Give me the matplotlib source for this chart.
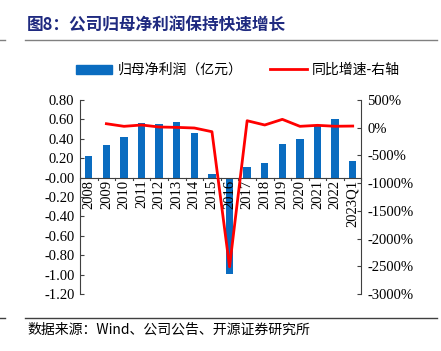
import matplotlib
matplotlib.use('Agg')
import matplotlib.pyplot as plt
from matplotlib.lines import Line2D
from matplotlib.patches import Patch
import numpy as np

years = ['2008', '2009', '2010', '2011', '2012', '2013', '2014', '2015',
         '2016', '2017', '2018', '2019', '2020', '2021', '2022', '2023Q1']
profit = [0.22, 0.34, 0.42, 0.56, 0.55, 0.57, 0.46, 0.04,
          -0.99, 0.11, 0.15, 0.35, 0.40, 0.53, 0.60, 0.17]
growth_years = years[1:]
growth = [72, 25, 49, 13, 6, -5, -72, -2509, 126, 49, 151, 25, 43, 26, 30]

cjk = ['Noto Sans CJK SC', 'DejaVu Sans']
serif = ['Liberation Serif', 'DejaVu Serif']
blue = '#0a6cc0'
red = '#ff0000'

fig = plt.figure(figsize=(4.41, 3.51), dpi=100)
ax = fig.add_axes([80 / 441, 1 - 294 / 351, (361.5 - 80) / 441, 194 / 351])
ax2 = ax.twinx()

x = np.arange(len(years))
ax.bar(x, profit, width=0.42, color=blue, zorder=2)
ax2.plot(x[1:], growth, color=red, linewidth=2, zorder=3)

ax.set_xlim(-0.5, len(years) - 0.5)
ax.set_ylim(-1.2, 0.8)
ax.set_yticks(np.arange(-1.2, 0.81, 0.2))
ax.set_yticklabels([f'{v:.2f}' for v in np.arange(-1.2, 0.81, 0.2)], family=serif, fontsize=10.5)
ax2.set_ylim(-3000, 500)
ax2.set_yticks(np.arange(-3000, 501, 500))
ax2.set_yticklabels([f'{v}%' for v in range(-3000, 501, 500)], family=serif, fontsize=10.5)

for a in (ax, ax2):
    a.spines['top'].set_visible(False)
    a.spines['bottom'].set_visible(False)
ax.spines['right'].set_visible(False)
ax.spines['left'].set_color('#404040')
ax2.spines['right'].set_color('#404040')
ax2.spines['left'].set_visible(False)
ax.tick_params(axis='y', direction='in', length=3, color='#404040', pad=4)
ax2.tick_params(axis='y', direction='in', length=3, color='#404040', pad=4)

# zero line with ticks at category boundaries
ax.axhline(0, color='#404040', linewidth=0.8, zorder=4)
ax.set_xticks([])
for b in np.arange(-0.5, len(years), 1.0):
    ax.plot([b, b], [0, -0.025], color='#404040', linewidth=0.8, clip_on=False, zorder=4)
for i, lab in enumerate(years):
    ax.text(i, -0.02, lab, rotation=90, ha='center', va='top', family=serif, fontsize=10.5, zorder=5)

# title and rules
fig.text(27 / 441, 1 - 25 / 351, '图8：公司归母净利润保持快速增长', family=cjk, fontsize=12,
         fontweight='bold', color='#1f2a80', va='center')
fig.add_artist(Line2D([25 / 441, 437 / 441], [1 - 40 / 351] * 2, color='#808080', linewidth=1))
fig.add_artist(Line2D([0, 5 / 441], [1 - 40 / 351] * 2, color='#808080', linewidth=1))
fig.add_artist(Line2D([25 / 441, 437 / 441], [1 - 318 / 351] * 2, color='#404040', linewidth=1))
fig.add_artist(Line2D([0, 5 / 441], [1 - 318 / 351] * 2, color='#404040', linewidth=1))
fig.text(27 / 441, 1 - 330 / 351, '数据来源：Wind、公司公告、开源证券研究所', family=['Noto Sans CJK SC', 'Liberation Serif'],
         fontsize=10, va='center')

handles = [Patch(color=blue), Line2D([], [], color=red, linewidth=2)]
fig.legend(handles, ['归母净利润（亿元）', '同比增速-右轴'], loc='center', bbox_to_anchor=(0.54, 1 - 70 / 351),
           ncol=2, frameon=False, prop={'family': cjk, 'size': 10}, handlelength=2.6, handleheight=0.6,
           columnspacing=2.0, handletextpad=0.4)

fig.savefig('out.png', dpi=100)
